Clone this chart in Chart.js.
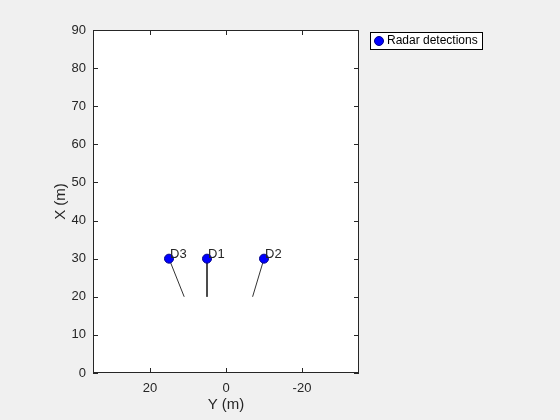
<!DOCTYPE html>
<html>
<head>
<meta charset="utf-8">
<script src="https://cdn.jsdelivr.net/npm/chart.js@4"></script>
<style>
  body { margin: 0; background: #f0f0f0; }
  #wrap { width: 560px; height: 420px; }
</style>
</head>
<body>
<div id="wrap"><canvas id="c" width="560" height="420"></canvas></div>
<script>
// detections (plot x axis is Y, plot y axis is X)
const detLabels = ["D1", "D2", "D3"];
const detY = [5, -10, 15];
const detX = [30, 30, 30];
// end of the direction segments
const endY = [5, -7, 11];
const endX = [20, 20, 20];

const xTicks = [20, 0, -20];
const yTicks = [0, 10, 20, 30, 40, 50, 60, 70, 80, 90];

const axisColor = "#262626";
const fontFamily = "'Liberation Sans', Arial, sans-serif";

const datasets = [
  {
    label: "Radar detections",
    data: detY.map((v, i) => ({ x: v, y: detX[i] })),
    pointRadius: 4.5,
    pointBackgroundColor: "#0000ff",
    pointBorderColor: "#00008b",
    pointBorderWidth: 1,
    showLine: false,
    order: 0,
  },
];
detY.forEach((v, i) => {
  datasets.push({
    label: "seg" + i,
    data: [{ x: v, y: detX[i] }, { x: endY[i], y: endX[i] }],
    showLine: true,
    borderColor: "#333333",
    borderWidth: 1,
    pointRadius: 0,
    order: 1,
  });
});

const frame = {
  id: "frame",
  beforeDraw(chart) {
    const { ctx, chartArea: a } = chart;
    ctx.save();
    ctx.fillStyle = "#ffffff";
    ctx.fillRect(a.left, a.top, a.right - a.left, a.bottom - a.top);
    ctx.restore();
  },
  afterDatasetsDraw(chart) {
    const { ctx, chartArea: a, scales } = chart;
    ctx.save();
    // labels next to the detections
    ctx.fillStyle = axisColor;
    ctx.font = "13px " + fontFamily;
    ctx.textBaseline = "alphabetic";
    detLabels.forEach((t, i) => {
      const px = scales.x.getPixelForValue(detY[i]);
      const py = scales.y.getPixelForValue(detX[i]);
      ctx.fillText(t, px + 1, py - 1);
    });
    // box and inward ticks
    ctx.strokeStyle = axisColor;
    ctx.lineWidth = 1;
    ctx.strokeRect(Math.round(a.left) + 0.5, Math.round(a.top) + 0.5,
      Math.round(a.right - a.left) - 1, Math.round(a.bottom - a.top) - 1);
    ctx.beginPath();
    yTicks.forEach((v) => {
      const py = Math.round(scales.y.getPixelForValue(v)) + 0.5;
      ctx.moveTo(a.left, py); ctx.lineTo(a.left + 5, py);
      ctx.moveTo(a.right, py); ctx.lineTo(a.right - 5, py);
    });
    xTicks.forEach((v) => {
      const px = Math.round(scales.x.getPixelForValue(v)) + 0.5;
      ctx.moveTo(px, a.bottom); ctx.lineTo(px, a.bottom - 5);
      ctx.moveTo(px, a.top); ctx.lineTo(px, a.top + 5);
    });
    ctx.stroke();
    // legend
    ctx.fillStyle = "#ffffff";
    ctx.fillRect(370, 32, 112, 17);
    ctx.strokeStyle = "#000000";
    ctx.strokeRect(370.5, 32.5, 112, 17);
    ctx.beginPath();
    ctx.arc(379, 41, 4.5, 0, Math.PI * 2);
    ctx.fillStyle = "#0000ff";
    ctx.fill();
    ctx.strokeStyle = "#00008b";
    ctx.stroke();
    ctx.fillStyle = "#000000";
    ctx.font = "12px " + fontFamily;
    ctx.textBaseline = "middle";
    ctx.fillText("Radar detections", 387, 41);
    ctx.restore();
  },
};

new Chart(document.getElementById("c"), {
  type: "scatter",
  data: { datasets: datasets },
  options: {
    responsive: false,
    animation: false,
    layout: { padding: { left: 48, top: 30, right: 201, bottom: 0 } },
    plugins: { legend: { display: false }, tooltip: { enabled: false } },
    scales: {
      x: {
        type: "linear",
        reverse: true,
        min: -35,
        max: 35,
        grid: { display: false, drawTicks: false },
        border: { display: false },
        afterBuildTicks: (s) => { s.ticks = xTicks.map((v) => ({ value: v })); },
        afterFit: (s) => { s.height = 47; },
        ticks: { color: axisColor, padding: 8, font: { size: 13, family: fontFamily }, maxRotation: 0 },
        title: { display: true, text: "Y (m)", color: axisColor, padding: { top: 4, bottom: 6 }, font: { size: 15, family: fontFamily } },
      },
      y: {
        type: "linear",
        min: 0,
        max: 90,
        grid: { display: false, drawTicks: false },
        border: { display: false },
        afterBuildTicks: (s) => { s.ticks = yTicks.map((v) => ({ value: v })); },
        afterFit: (s) => { s.width = 45; },
        ticks: { color: axisColor, padding: 7, font: { size: 13, family: fontFamily } },
        title: { display: true, text: "X (m)", color: axisColor, padding: { top: 4, bottom: 4 }, font: { size: 15, family: fontFamily } },
      },
    },
  },
  plugins: [frame],
});
</script>
</body>
</html>
